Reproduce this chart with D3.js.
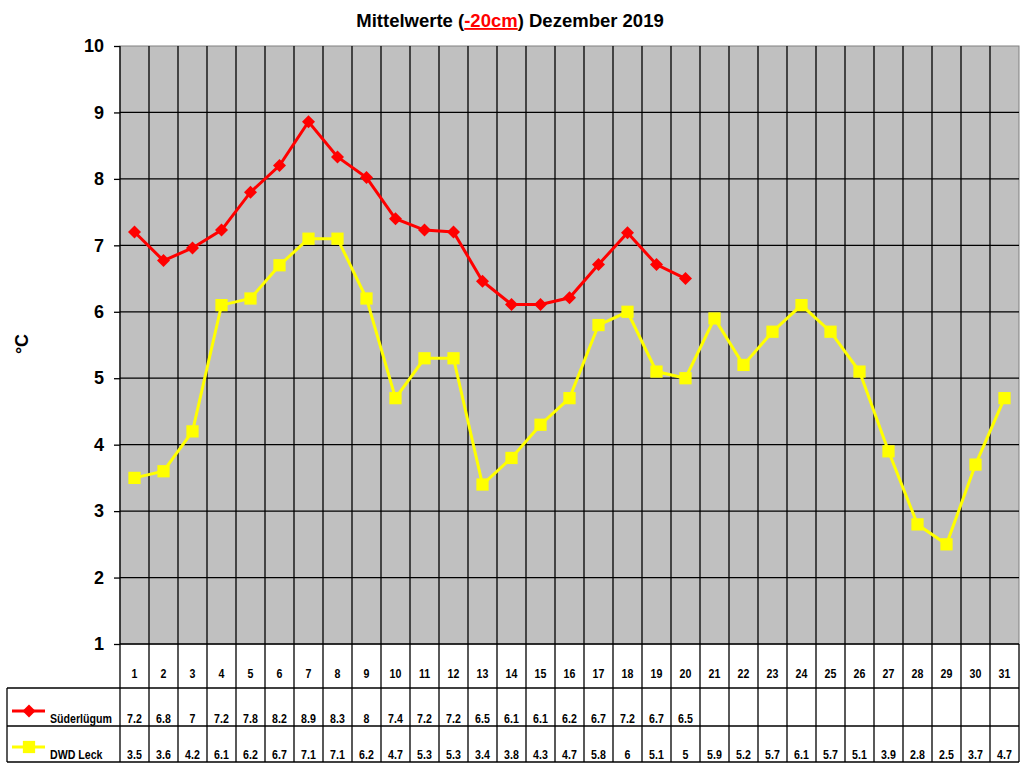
<!DOCTYPE html>
<html>
<head>
<meta charset="utf-8">
<script src="https://cdn.jsdelivr.net/npm/d3@7"></script>
<style>
  body { margin: 0; background: #fff; }
  text { font-family: Arial, "Liberation Sans", sans-serif; }
</style>
</head>
<body>
<div id="chart"></div>
<script>
const days = d3.range(1, 32).map(String)
const suederluegum = [7.2, 6.77, 6.96, 7.23, 7.8, 8.2, 8.86, 8.33, 8.02, 7.4, 7.23, 7.2, 6.46, 6.11, 6.11, 6.21, 6.71, 7.19, 6.71, 6.5]
const dwdLeck = [3.5, 3.6, 4.2, 6.1, 6.2, 6.7, 7.1, 7.1, 6.2, 4.7, 5.3, 5.3, 3.4, 3.8, 4.3, 4.7, 5.8, 6, 5.1, 5, 5.9, 5.2, 5.7, 6.1, 5.7, 5.1, 3.9, 2.8, 2.5, 3.7, 4.7]
const yTicks = [1, 2, 3, 4, 5, 6, 7, 8, 9, 10]
const seriesNames = ["Süderlügum", "DWD Leck"]

const width = 1024
const height = 768
const plotLeft = 120, plotRight = 1019, plotTop = 46, plotBottom = 644
const rowDay = 688, rowA = 726, rowB = 762

const svg = d3.select("#chart")
    .append("svg")
    .attr("width", width)
    .attr("height", height)

const x = d3.scaleBand().domain(days).range([plotLeft, plotRight])
const y = d3.scaleLinear().domain([1, 10]).range([plotBottom, plotTop])

// plot area
svg.append("rect")
    .attr("x", plotLeft).attr("y", plotTop)
    .attr("width", plotRight - plotLeft).attr("height", plotBottom - plotTop)
    .attr("fill", "#c0c0c0")
    .attr("stroke", "#808080")
    .attr("stroke-width", 1)

// horizontal grid
svg.append("g")
    .selectAll("line")
    .data(yTicks.filter(d => d > 1 && d < 10))
    .join("line")
    .attr("x1", plotLeft).attr("x2", plotRight)
    .attr("y1", d => y(d)).attr("y2", d => y(d))
    .attr("stroke", "#000")
    .attr("stroke-width", 1.3)

// vertical lines through plot and table
svg.append("g")
    .selectAll("line")
    .data(days.slice(1))
    .join("line")
    .attr("x1", d => x(d)).attr("x2", d => x(d))
    .attr("y1", plotTop).attr("y2", rowB)
    .attr("stroke", "#000")
    .attr("stroke-width", 1.3)

// y axis
const yAxis = svg.append("g")
    .attr("transform", `translate(${plotLeft},0)`)
    .call(d3.axisLeft(y).tickValues(yTicks).tickSize(6).tickPadding(10).tickFormat(d3.format("d")))
yAxis.select(".domain").remove()
yAxis.selectAll(".tick line").attr("stroke", "#000").attr("stroke-width", 1.3)
yAxis.selectAll(".tick text")
    .attr("font-size", 18)
    .attr("font-weight", "bold")
    .attr("fill", "#000")
    .attr("font-family", "Arial, 'Liberation Sans', sans-serif")

svg.append("line")
    .attr("x1", plotLeft).attr("x2", plotLeft)
    .attr("y1", plotTop).attr("y2", rowB)
    .attr("stroke", "#000").attr("stroke-width", 1.3)
svg.append("line")
    .attr("x1", plotRight).attr("x2", plotRight)
    .attr("y1", plotBottom).attr("y2", rowB)
    .attr("stroke", "#000").attr("stroke-width", 1.3)

svg.append("text")
    .attr("transform", "translate(28,344) rotate(-90)")
    .attr("text-anchor", "middle")
    .attr("font-size", 18)
    .attr("font-weight", "bold")
    .text("°C")

// title
const title = svg.append("text")
    .attr("x", 510).attr("y", 27)
    .attr("text-anchor", "middle")
    .attr("font-size", 18.5)
    .attr("font-weight", "bold")
title.append("tspan").text("Mittelwerte (")
title.append("tspan").attr("fill", "#ff0000").attr("text-decoration", "underline").text("-20cm")
title.append("tspan").text(") Dezember 2019")

// table
const table = svg.append("g")
table.selectAll("line.h")
    .data([plotBottom, rowDay, rowA, rowB])
    .join("line")
    .attr("x1", (d, i) => i === 0 ? plotLeft : 7).attr("x2", plotRight)
    .attr("y1", d => d).attr("y2", d => d)
    .attr("stroke", "#000").attr("stroke-width", 1.3)
table.append("line")
    .attr("x1", 7).attr("x2", 7).attr("y1", rowDay).attr("y2", rowB)
    .attr("stroke", "#000").attr("stroke-width", 1.3)

// table text is narrow in the original, squeeze it a bit
const squeeze = 0.85
const cellText = (sel, px, py) => sel
    .attr("transform", `translate(${px},${py}) scale(${squeeze},1)`)
    .attr("font-size", 12.5)
    .attr("font-weight", "bold")

table.selectAll("text.day")
    .data(days)
    .join("text")
    .attr("text-anchor", "middle")
    .each(function(d) { cellText(d3.select(this), x(d) + x.bandwidth() / 2, 678) })
    .text(d => d)

const fmt = v => String(Math.round(v * 10) / 10)

// diamond = square turned by 45 degrees, square markers
const diamond = "M0,-6.5L6.5,0L0,6.5L-6.5,0Z"
const square = d3.symbol().type(d3.symbolSquare).size(150)()

const series = [
  { name: seriesNames[0], values: suederluegum, color: "#ff0000", marker: diamond, row: rowA },
  { name: seriesNames[1], values: dwdLeck, color: "#ffff00", marker: square, row: rowB }
]

series.forEach(s => {
  table.selectAll(null)
      .data(s.values)
      .join("text")
      .attr("text-anchor", "middle")
      .each(function(d, i) { cellText(d3.select(this), x(days[i]) + x.bandwidth() / 2, s.row - 3) })
      .text(d => fmt(d))

  // legend key
  const ly = s.row - 15
  table.append("line")
      .attr("x1", 12).attr("x2", 45).attr("y1", ly).attr("y2", ly)
      .attr("stroke", s.color).attr("stroke-width", 3)
  table.append("path")
      .attr("d", s.marker)
      .attr("transform", `translate(29,${ly})`)
      .attr("fill", s.color)
  table.append("text")
      .call(cellText, 50, s.row - 3)
      .text(s.name)

  const line = d3.line()
      .x((d, i) => x(days[i]) + x.bandwidth() / 2)
      .y(d => y(d))
  svg.append("path")
      .datum(s.values)
      .attr("d", line)
      .attr("fill", "none")
      .attr("stroke", s.color)
      .attr("stroke-width", 3)
  svg.append("g")
      .selectAll("path")
      .data(s.values)
      .join("path")
      .attr("d", s.marker)
      .attr("transform", (d, i) => `translate(${x(days[i]) + x.bandwidth() / 2},${y(d)})`)
      .attr("fill", s.color)
})
</script>
</body>
</html>
